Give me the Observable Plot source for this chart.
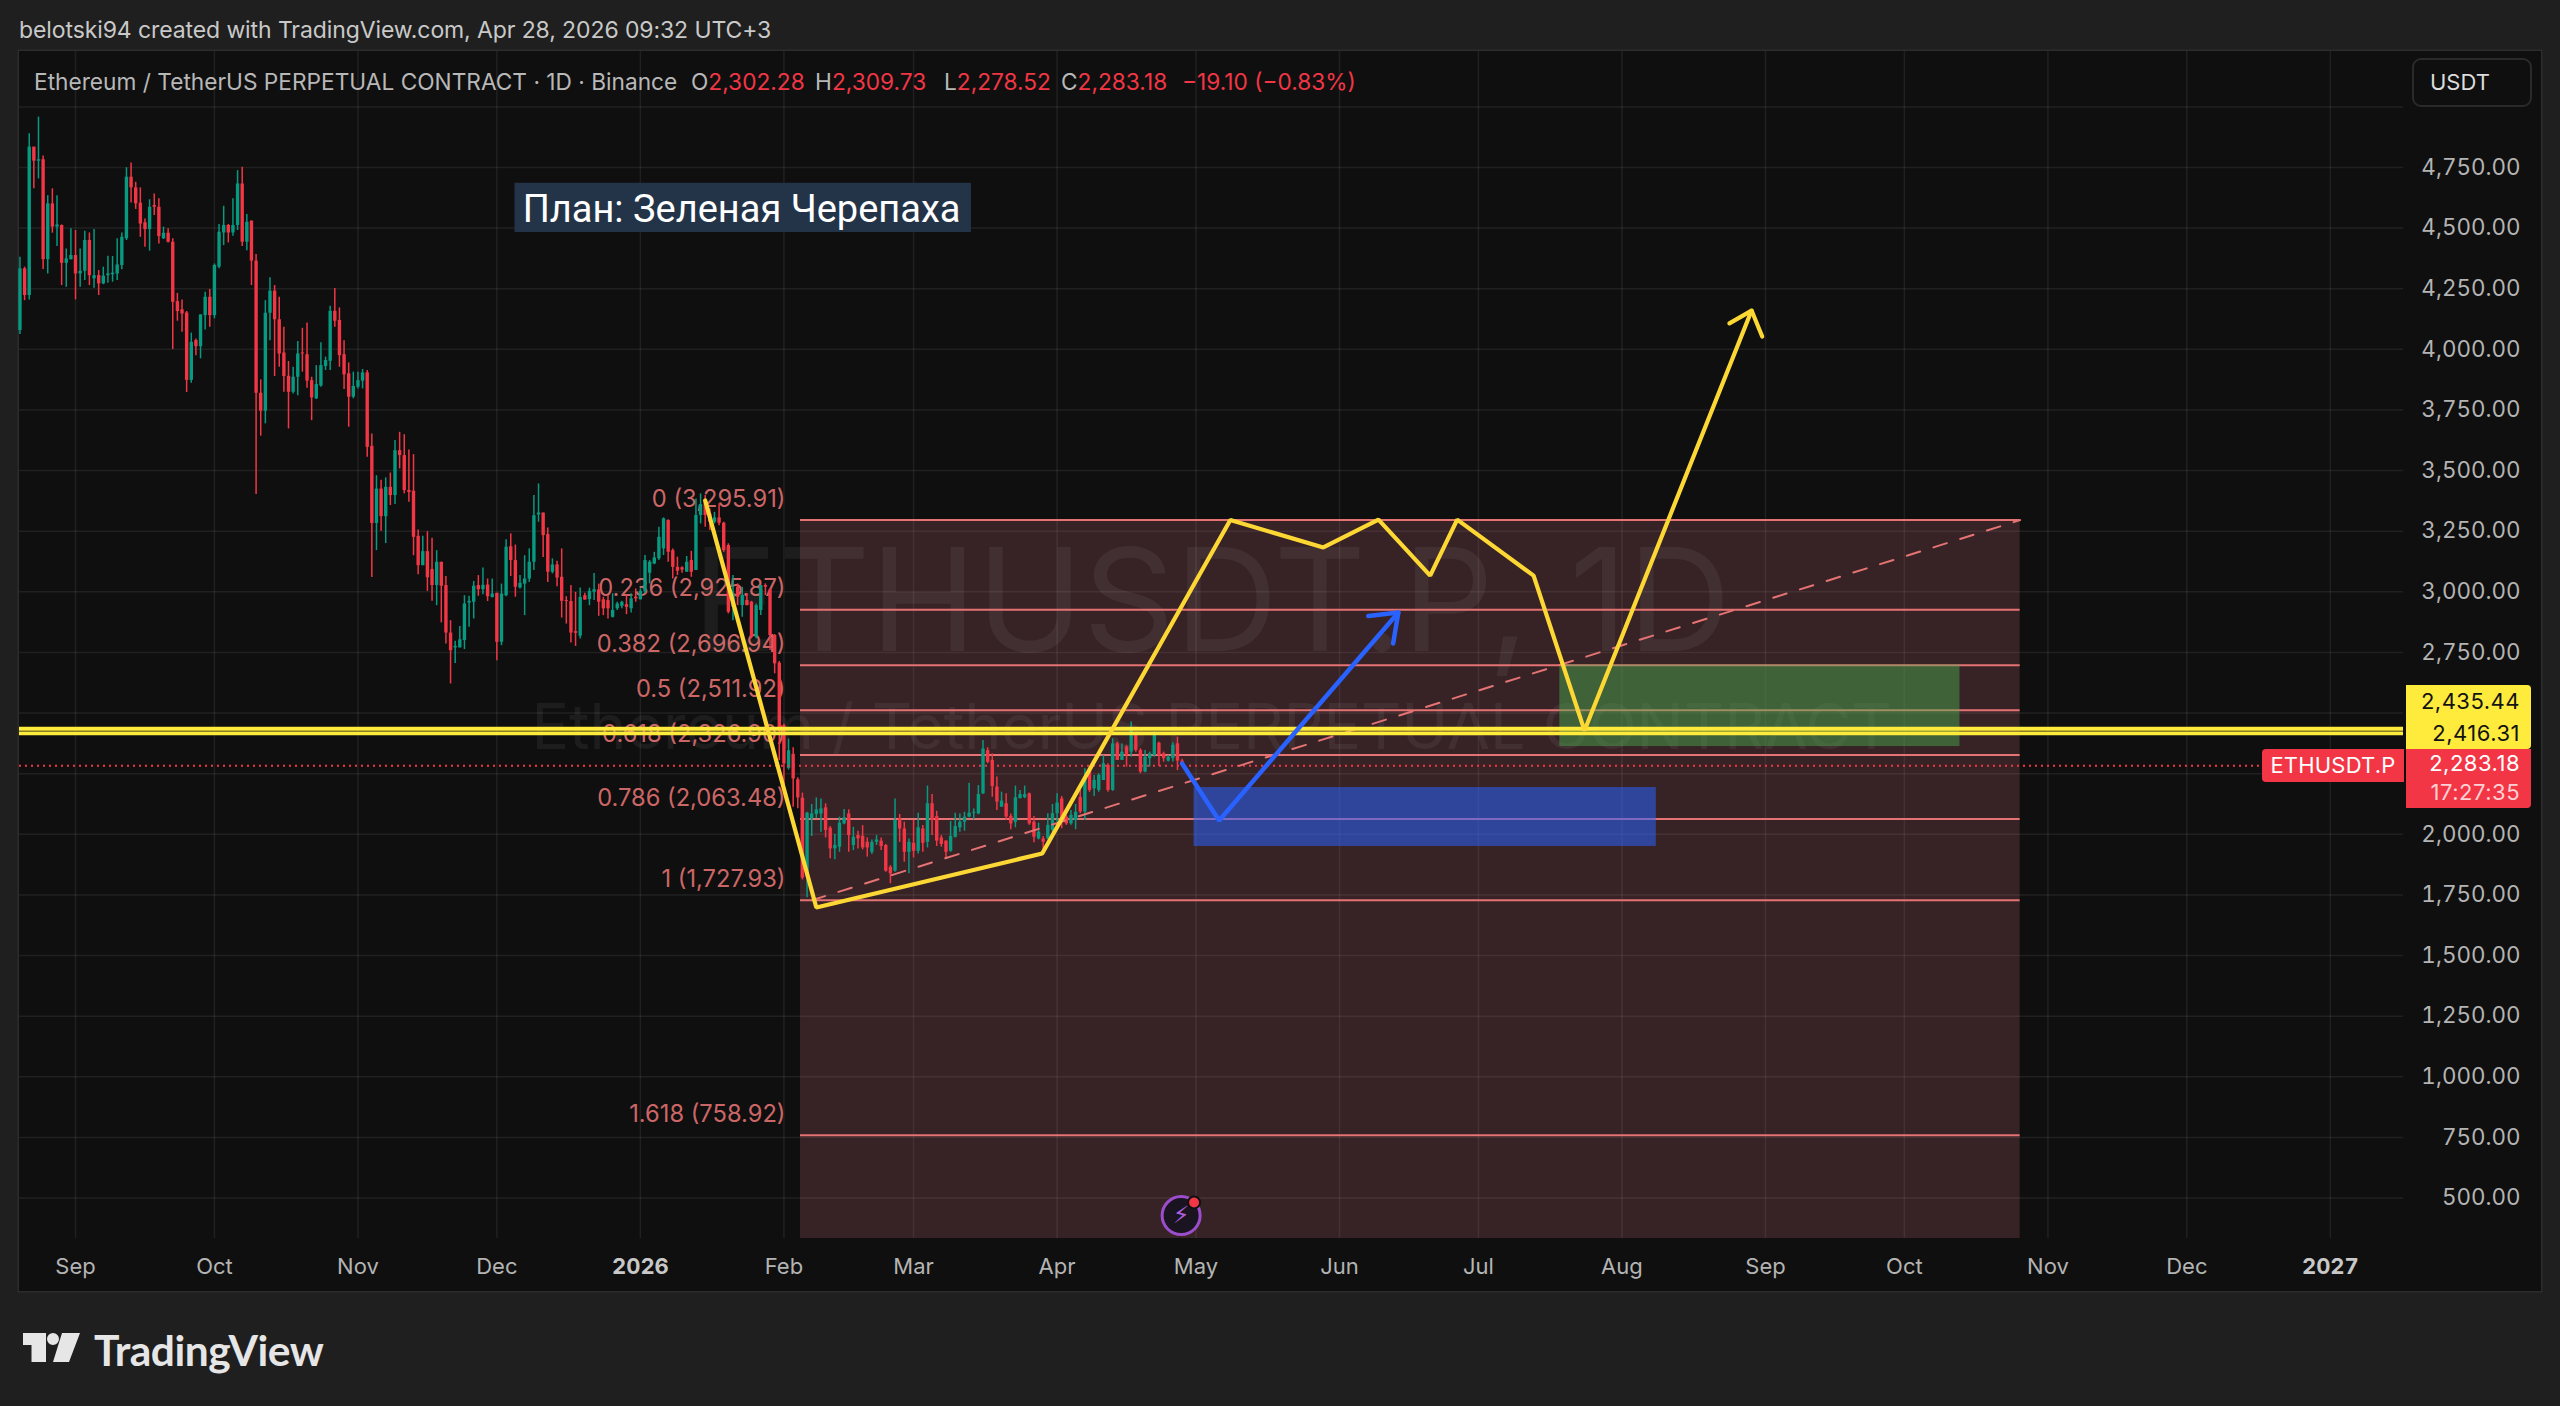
<!DOCTYPE html>
<html lang="en">
<head>
<meta charset="utf-8">
<title>ETHUSDT.P</title>
<script src="https://cdn.jsdelivr.net/npm/d3@7"></script>
<script src="https://cdn.jsdelivr.net/npm/@observablehq/plot@0.6"></script>
<style>
  html, body { margin: 0; padding: 0; background: #1f1f1f; font-family: Inter, "Noto Sans", sans-serif; }
  #page { position: relative; width: 2560px; height: 1406px; overflow: hidden; }
  #credit { position: absolute; left: 19px; top: 16px; font-size: 23px; color: #c9c9c9; letter-spacing: -0.1px; white-space: nowrap; }
  #pane { position: absolute; left: 19px; top: 51px; width: 2522px; height: 1240px; background: #0f0f0f; box-shadow: 0 0 0 1.5px #2c2c2c; }
  #pane svg { display: block; }
  #legend { position: absolute; left: 34px; top: 68px; font-size: 22.7px; color: #b8b8b8; white-space: nowrap; }
  #legend span { position: absolute; top: 0; white-space: nowrap; }
  #legend b { font-weight: 400; color: #f23645; }
  #usdt { position: absolute; left: 2412px; top: 58px; width: 120px; height: 49px; box-sizing: border-box; border: 2px solid #2a2a2a; border-radius: 9px; font-size: 22px; color: #dcdcdc; line-height: 45px; padding-left: 16px; background: #0f0f0f; }
  .badge { position: absolute; box-sizing: border-box; text-align: right; padding-right: 11px; font-size: 22px; letter-spacing: .5px; white-space: nowrap; }
  #logo { position: absolute; left: 23px; top: 1333px; display: flex; align-items: flex-start; gap: 13px; color: #e6e6e6; }
  #logo .name { font-family: Lato, Inter, sans-serif; font-weight: 700; font-size: 42.5px; line-height: 40px; letter-spacing: -0.5px; }
</style>
</head>
<body>
<div id="page">
  <div id="credit">belotski94 created with TradingView.com, Apr 28, 2026 09:32 UTC+3</div>
  <div id="pane"></div>
  <div id="legend">Ethereum / TetherUS PERPETUAL CONTRACT · 1D · Binance
    <span style="left:657px">O<b>2,302.28</b></span>
    <span style="left:781px">H<b>2,309.73</b></span>
    <span style="left:910px">L<b>2,278.52</b></span>
    <span style="left:1027px">C<b>2,283.18</b></span>
    <span style="left:1148px"><b>−19.10 (−0.83%)</b></span>
  </div>
  <div id="usdt">USDT</div>
  <div class="badge" style="left:2406px;top:685px;width:125px;height:64px;background:#ffeb3b;color:#131313;border-radius:0 4px 4px 0;line-height:32px">2,435.44<br>2,416.31</div>
  <div class="badge" style="left:2406px;top:749px;width:125px;height:59px;background:#f23645;color:#fff;border-radius:0 0 4px 0;line-height:29px">2,283.18<br><span style="color:#ffd0d4">17:27:35</span></div>
  <div class="badge" style="left:2262px;top:749px;width:142px;height:33px;background:#f23645;color:#fff;border-radius:4px 0 0 4px;line-height:33px;text-align:center;padding:0;letter-spacing:.2px">ETHUSDT.P</div>
  <div id="logo">
    <svg width="58" height="30" viewBox="0 0 58 30"><path fill="#e6e6e6" d="M0 0H23V29H8.5V12H0ZM39 0H57L46 29H30ZM30 0a6 6 0 1 1 0 12a6 6 0 0 1 0-12z"/></svg>
    <div class="name" style="margin-top:-3px">TradingView</div>
  </div>
</div>
<script>
// Daily candles, 2025-08-20 to 2026-04-28
const opens = [
  4078,4332,4222,4834,4776,4782,4370,4600,4504,4511,
  4355,4370,4387,4311,4322,4449,4291,4304,4270,4304,
  4308,4311,4346,4456,4710,4666,4603,4522,4494,4593,
  4586,4456,4479,4442,4197,4163,4150,3872,4036,4011,
  4139,4215,4139,4339,4480,4511,4480,4511,4682,4442,
  4529,4364,3819,3745,4149,4240,4122,3985,3889,3823,
  3885,3985,3978,3871,3796,3849,3929,3951,4157,4119,
  3978,3899,3803,3844,3869,3903,3600,3282,3424,3310,
  3431,3397,3582,3562,3418,3415,3229,3108,3166,3092,
  3026,3122,3026,2830,2769,2769,2799,2954,2957,3026,
  3009,3028,2977,2994,2792,2984,3186,3129,3016,3032,
  3053,3122,3317,3325,3236,3081,3111,3060,2964,2960,
  2836,2817,2984,2968,2998,3008,2967,2964,2895,2930,
  2940,2947,2930,2978,2967,3000,3077,3115,3136,3177,
  3294,3170,3101,3099,3081,3129,3088,3315,3374,3321,
  3287,3305,3283,3191,2936,3019,2943,2964,2957,2813,
  2923,3026,3008,2820,2706,2448,2272,2330,2225,2149,
  1823,2063,2082,2084,2109,2025,1940,1947,2043,2084,
  1954,1995,1992,1967,1926,1967,1972,1954,1864,1848,
  2064,2022,1926,1963,1930,2022,1967,2126,2073,1985,
  1972,1930,1988,2027,2050,2071,2087,2084,2167,2345,
  2305,2195,2112,2126,2074,2050,2147,2151,2167,2050,
  1981,1981,1981,2016,2085,2146,2071,2043,2057,2152,
  2092,2266,2188,2181,2222,2284,2181,2373,2305,2360,
  2339,2412,2346,2257,2312,2325,2376,2332,2302,2312,
  2373,2302.28];
const highs = [
  4380,4339,4889,4834,4958,4797,4634,4662,4634,4513,
  4414,4497,4490,4414,4487,4480,4494,4325,4339,4384,
  4383,4456,4480,4749,4769,4689,4666,4538,4617,4641,
  4621,4504,4497,4456,4231,4204,4156,4067,4043,4142,
  4236,4247,4352,4515,4590,4515,4621,4737,4751,4556,
  4529,4391,3874,4201,4295,4263,4215,4091,3950,3926,
  4032,4087,4109,3885,3933,4027,3968,4178,4251,4171,
  4036,3944,3906,3906,3917,3913,3651,3479,3460,3470,
  3490,3624,3658,3648,3585,3566,3255,3229,3248,3221,
  3170,3122,3063,2881,2796,2857,2984,2982,3043,3067,
  3098,3053,3053,2994,3032,3215,3239,3193,3067,3149,
  3177,3397,3445,3325,3263,3136,3126,3177,2980,3026,
  2998,3016,2994,3015,3076,3032,2978,2985,2992,2957,
  2961,2985,2992,3012,3012,3150,3129,3163,3266,3305,
  3297,3177,3143,3104,3146,3167,3383,3404,3397,3342,
  3328,3363,3287,3198,3067,3033,3019,2992,2961,2950,
  3026,3033,3012,2824,2713,2455,2393,2357,2233,2170,
  2091,2123,2150,2146,2126,2032,1999,2071,2102,2101,
  2029,2013,2036,1985,1977,1995,1985,1958,1871,2146,
  2082,2050,1981,2057,2087,2036,2199,2164,2095,1995,
  1974,2053,2087,2084,2091,2211,2105,2201,2387,2357,
  2332,2236,2174,2167,2084,2199,2181,2199,2170,2074,
  2046,1991,2085,2123,2167,2156,2078,2098,2123,2181,
  2270,2266,2243,2250,2325,2291,2394,2380,2373,2367,
  2463,2421,2353,2346,2339,2422,2380,2339,2325,2378,
  2401,2309.73];
const lows = [
  4061,4201,4204,4662,4703,4329,4311,4479,4424,4263,
  4256,4369,4204,4256,4284,4263,4252,4222,4267,4273,
  4277,4284,4328,4449,4604,4577,4462,4421,4405,4552,
  4435,4453,4439,3999,4116,4071,3822,3860,3974,3961,
  4080,4091,4126,4332,4428,4439,4467,4490,4424,4407,
  4263,3401,3642,3693,4036,3888,3926,3823,3672,3816,
  3809,3906,3840,3706,3793,3844,3913,3913,4091,3926,
  3834,3679,3796,3837,3837,3555,3059,3170,3250,3199,
  3356,3360,3507,3404,3370,3149,3070,3108,3002,2961,
  2943,2872,2785,2620,2705,2768,2762,2854,2888,2982,
  2988,2960,2975,2716,2778,2980,3063,2978,3012,2902,
  3039,3088,3287,3142,3039,3074,3021,2892,2867,2789,
  2775,2806,2966,2943,2964,2899,2902,2888,2892,2923,
  2930,2906,2913,2957,2967,2992,3033,3112,3129,3150,
  3122,3053,3067,3077,3081,3060,3088,3280,3266,3253,
  3280,3273,3163,2909,2881,2943,2895,2943,2806,2806,
  2902,2985,2758,2662,2304,2205,2265,2112,2105,1812,
  1738,1991,2064,2009,1985,1899,1895,1926,2040,1926,
  1933,1940,1936,1906,1917,1954,1933,1844,1796,1844,
  1967,1885,1837,1903,1919,1926,1944,1995,1950,1947,
  1903,1926,1985,2009,2013,2068,2060,2081,2164,2291,
  2153,2098,2112,2057,2019,2027,2147,2147,2037,1965,
  1977,1933,1977,2009,2050,2023,2037,2037,2019,2085,
  2057,2173,2156,2174,2222,2174,2177,2305,2305,2277,
  2318,2339,2250,2254,2277,2318,2280,2298,2298,2298,
  2263,2278.52];
const closes = [
  4332,4222,4834,4776,4782,4370,4600,4504,4513,4355,
  4373,4387,4311,4322,4449,4304,4304,4270,4302,4311,
  4314,4348,4462,4710,4666,4600,4517,4494,4586,4586,
  4465,4479,4442,4194,4156,4146,3872,4029,4011,4142,
  4215,4139,4346,4483,4511,4480,4511,4682,4442,4524,
  4364,3819,3745,4149,4240,4122,3981,3888,3823,3885,
  3981,3981,3869,3800,3855,3933,3954,4157,4116,3974,
  3895,3803,3847,3871,3903,3596,3282,3424,3310,3431,
  3397,3582,3562,3418,3410,3225,3108,3166,3058,3026,
  3122,3023,2830,2757,2775,2802,2950,2961,3023,3009,
  3027,2980,2991,2792,2991,3184,3129,3019,3035,3053,
  3122,3314,3325,3232,3081,3111,3057,2961,2960,2830,
  2829,2977,2966,3002,3009,2957,2930,2930,2923,2950,
  2957,2936,2971,2971,3002,3129,3122,3140,3225,3301,
  3163,3101,3085,3090,3122,3081,3315,3360,3315,3287,
  3305,3283,3170,2916,2991,2978,2985,2943,2813,2943,
  3026,3019,2820,2703,2440,2290,2345,2228,2150,1820,
  2087,2084,2101,2105,2016,1940,1954,2046,2068,1995,
  1988,1981,1944,1944,1967,1977,1950,1848,1837,2057,
  2022,1926,1967,1930,2027,1963,2126,2057,1972,1958,
  1926,1991,2032,2050,2071,2087,2091,2164,2352,2297,
  2197,2133,2137,2071,2043,2151,2164,2164,2043,1988,
  2009,1967,2037,2085,2129,2057,2043,2078,2091,2092,
  2229,2181,2222,2243,2291,2181,2373,2305,2339,2325,
  2428,2346,2257,2318,2332,2408,2325,2312,2318,2367,
  2302,2283.18];

// Axis ticks
const monthTicks = ["2025-09-01","2025-10-01","2025-11-01","2025-12-01","2026-02-01","2026-03-01","2026-04-01","2026-05-01","2026-06-01","2026-07-01","2026-08-01","2026-09-01","2026-10-01","2026-11-01","2026-12-01"];
const yearTicks = ["2026-01-01","2027-01-01"];
const priceGrid = d3.range(500, 5001, 250);
const priceLabels = [500,750,1000,1250,1500,1750,2000,2750,3000,3250,3500,3750,4000,4250,4500,4750];

// Fibonacci retracement
const fibRatios = ["0","0.236","0.382","0.5","0.618","0.786","1","1.618"];
const fibPrices = [3295.91,2925.87,2696.94,2511.92,2326.90,2063.48,1727.93,758.92];
const fibStart = "2026-02-04T14:00Z", fibEnd = "2026-10-26";
const trendDates = ["2026-02-07","2026-10-26"];
const trendPrices = [1727.93,3295.91];

// Drawn levels and plan
const levelPrices = [2435.44,2416.31];
const lastPrice = 2283.18;
const yellowDates = ["2026-01-15","2026-02-08","2026-03-28T19:00Z","2026-05-08T10:00Z","2026-05-28T12:00Z","2026-06-09T10:00Z","2026-06-20T14:00Z","2026-06-26T10:00Z","2026-07-12T22:00Z","2026-07-23T22:00Z","2026-08-29"];
const yellowPrices = [3377,1698,1921,3296,3183,3298,3067,3298,3067,2428,4160];
const yellowHeadDates = ["2026-08-24T05:00Z","2026-08-29","2026-08-31T07:00Z"];
const yellowHeadPrices = [4107,4160,4053];
const blueDates = ["2026-04-28","2026-05-06","2026-06-13T17:00Z"];
const bluePrices = [2292,2057,2915];
const blueHeadDates = ["2026-06-07T05:00Z","2026-06-13T17:00Z","2026-06-12T14:00Z"];
const blueHeadPrices = [2900,2915,2787];
const zones = [
  {x1:"2026-07-18T14:00Z", x2:"2026-10-13", y1:2362, y2:2698, fill:"#4caf50", o:0.45},
  {x1:"2026-04-30T14:00Z", x2:"2026-08-08T10:00Z", y1:1950, y2:2193, fill:"#2962ff", o:0.55}
];
const noteText = "План: Зеленая Черепаха";
const watermarkLines = ["ETHUSDT.P, 1D","Ethereum / TetherUS PERPETUAL CONTRACT"];

const parse = s => new Date(s.length === 10 ? s + "T00:00Z" : s);
const candleDates = d3.utcDay.range(new Date(Date.UTC(2025,7,20)), new Date(Date.UTC(2026,3,29)));
const candles = candleDates.map((date,i) => ({date, open:opens[i], high:highs[i], low:lows[i], close:closes[i]}));
const zip = (ds, ps) => ds.map((d,i) => ({date:parse(d), price:ps[i]}));
const fib = fibRatios.map((r,i) => ({r, price:fibPrices[i], label:`${r} (${d3.format(",.2f")(fibPrices[i])})`, x1:parse(fibStart), x2:parse(fibEnd)}));

const GREEN = "#089981", RED = "#f23645", YELLOW = "#ffeb3b", BLUE = "#2962ff", FIB = "#e57373";
const up = d => d.close >= d.open;
const wm = "#ffffff";

const chart = Plot.plot({
  width: 2522, height: 1240,
  marginLeft: 0, marginRight: 138, marginTop: 0, marginBottom: 53,
  style: {background: "#0f0f0f", fontFamily: "Inter, sans-serif", fontSize: "22px", color: "#b4b4b4", overflow: "visible"},
  x: {type: "utc", domain: [new Date(Date.UTC(2026,0,1) - 134.1*864e5), new Date(Date.UTC(2026,0,1) + 380.8*864e5)], label: null},
  y: {type: "linear", domain: [333.2, 5228.4], label: null},
  marks: [
    Plot.ruleY(priceGrid, {stroke: "#ffffff", strokeOpacity: 0.075, strokeWidth: 1.5}),
    Plot.ruleX([...monthTicks, ...yearTicks].map(parse), {stroke: "#ffffff", strokeOpacity: 0.075, strokeWidth: 1.5}),
    // Fibonacci background reaches the bottom of the pane
    Plot.rect([0], {x1: () => parse(fibStart), x2: () => parse(fibEnd), y1: () => 333.2, y2: () => fibPrices[0], fill: "#ff8a96", fillOpacity: 0.17}),
    Plot.text([watermarkLines[0]], {frameAnchor: "middle", dy: -40, fontSize: 143, fill: wm, fillOpacity: 0.06, fontFamily: "Inter"}),
    Plot.text([watermarkLines[1]], {frameAnchor: "middle", dy: 84, fontSize: 62.6, fill: wm, fillOpacity: 0.06, fontFamily: "Inter"}),
    Plot.ruleY(fib, {y: "price", x1: "x1", x2: "x2", stroke: FIB, strokeWidth: 2}),
    Plot.text(fib, {x: "x1", y: "price", text: "label", textAnchor: "end", dx: -15, dy: -21, fill: FIB, fillOpacity: 0.9, fontSize: 23.7}),
    // Candles
    Plot.ruleX(candles.filter(up), {x: "date", y1: "low", y2: "high", stroke: GREEN, strokeWidth: 1.5}),
    Plot.ruleX(candles.filter(d => !up(d)), {x: "date", y1: "low", y2: "high", stroke: RED, strokeWidth: 1.5}),
    Plot.ruleX(candles.filter(up), {x: "date", y1: "open", y2: "close", stroke: GREEN, strokeWidth: 3.4}),
    Plot.ruleX(candles.filter(d => !up(d)), {x: "date", y1: "open", y2: "close", stroke: RED, strokeWidth: 3.4}),
    // Zones
    ...zones.map(z => Plot.rect([z], {x1: d => parse(d.x1), x2: d => parse(d.x2), y1: "y1", y2: "y2", fill: z.fill, fillOpacity: z.o})),
    Plot.ruleY([lastPrice], {stroke: RED, strokeWidth: 2, strokeDasharray: "2 4"}),
    Plot.line(zip(trendDates, trendPrices), {x: "date", y: "price", stroke: FIB, strokeWidth: 2, strokeDasharray: "14 14"}),
    Plot.ruleY(levelPrices, {stroke: YELLOW, strokeWidth: 3.8}),
    Plot.line(zip(yellowDates, yellowPrices), {x: "date", y: "price", stroke: "#fdd835", strokeWidth: 4.2, strokeLinejoin: "miter"}),
    Plot.line(zip(yellowHeadDates, yellowHeadPrices), {x: "date", y: "price", stroke: "#fdd835", strokeWidth: 4.2, strokeLinejoin: "miter"}),
    Plot.line(zip(blueDates, bluePrices), {x: "date", y: "price", stroke: BLUE, strokeWidth: 4.5, strokeLinejoin: "miter"}),
    Plot.line(zip(blueHeadDates, blueHeadPrices), {x: "date", y: "price", stroke: BLUE, strokeWidth: 4.5, strokeLinejoin: "miter"}),
    // Note box
    Plot.rect([0], {x1: () => parse("2025-12-04T22:00Z"), x2: () => parse("2026-03-13T12:00Z"), y1: () => 4482, y2: () => 4685, fill: "#243448"}),
    Plot.text([noteText], {x: () => parse("2025-12-06T14:00Z"), y: () => 4577, textAnchor: "start", fill: "#ffffff", fontSize: 38, fontFamily: "Roboto"}),
    // Event marker
    Plot.dot([0], {x: () => parse("2026-04-27T19:00Z"), y: () => 428, r: 19, fill: "#1a1320", stroke: "#9c4dcc", strokeWidth: 3}),
    Plot.text(["⚡"], {x: () => parse("2026-04-27T19:00Z"), y: () => 428, fill: "#ab5fdc", fontSize: 24, fontFamily: "DejaVu Sans"}),
    Plot.dot([0], {x: () => parse("2026-04-30T14:00Z"), y: () => 482, r: 6, fill: "#f23645", stroke: "#0f0f0f", strokeWidth: 2}),
    // Axes
    Plot.axisY(priceLabels, {anchor: "right", tickSize: 0, tickPadding: 117, textAnchor: "end", tickFormat: d3.format(",.2f"), fontSize: 22.4, fill: "#b4b4b4", label: null}),
    Plot.axisX(monthTicks.map(parse), {anchor: "bottom", tickSize: 0, tickPadding: 20, tickFormat: d3.utcFormat("%b"), fontSize: 22, fill: "#b4b4b4", label: null}),
    Plot.axisX(yearTicks.map(parse), {anchor: "bottom", tickSize: 0, tickPadding: 20, tickFormat: d3.utcFormat("%Y"), fontSize: 22, fontWeight: 700, fill: "#c8c8c8", label: null})
  ]
});
document.getElementById("pane").appendChild(chart);
</script>
</body>
</html>
